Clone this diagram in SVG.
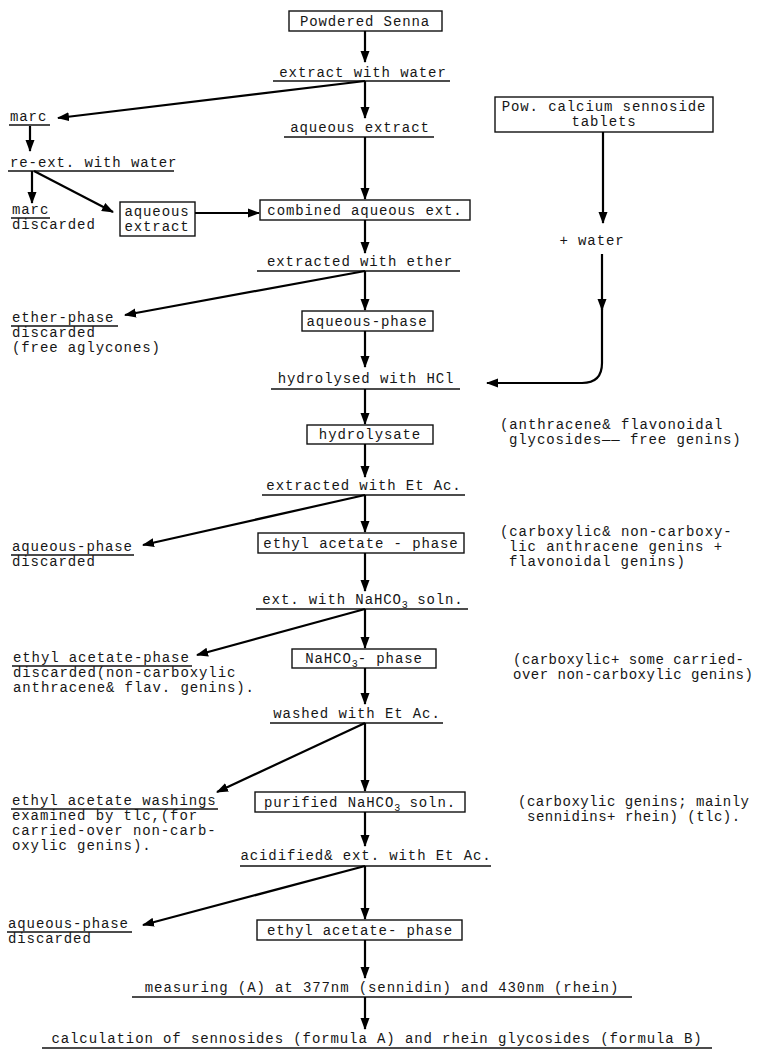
<svg xmlns="http://www.w3.org/2000/svg" width="757" height="1052" viewBox="0 0 757 1052">
<style>
text{font-family:"Liberation Mono","DejaVu Sans Mono",monospace;font-size:14px;letter-spacing:0.9px;fill:#161616}
.m{text-anchor:middle}
.n{letter-spacing:0.5px}
.box{fill:none;stroke:#111;stroke-width:1.4}
.ul{stroke:#111;stroke-width:1.3}
.ar{fill:none;stroke:#000;stroke-width:2.2;marker-end:url(#ah)}
.sub{font-size:10px;letter-spacing:0}
</style>
<defs>
<marker id="ah" markerUnits="userSpaceOnUse" markerWidth="12" markerHeight="10" refX="11" refY="5" orient="auto">
<path d="M0,0.5 L12,5 L0,9.5 z" fill="#000"/>
</marker>
</defs>
<rect width="757" height="1052" fill="#fff"/>

<g id="n-powdered"><rect class="box" x="289" y="11" width="153" height="20"/><text class="m" x="365" y="26">Powdered Senna</text></g>
<g id="n-extract-water"><text class="m" x="363" y="77">extract with water</text><line class="ul" x1="273" y1="81" x2="450" y2="81"/></g>
<g id="n-marc1"><text x="10" y="121">marc</text><line class="ul" x1="9" y1="125" x2="50" y2="125"/></g>
<g id="n-aq-extract"><text class="m" x="360" y="132">aqueous extract</text><line class="ul" x1="284" y1="137" x2="434" y2="137"/></g>
<g id="n-calcium"><rect class="box" x="495" y="97" width="218" height="35"/><text class="m" x="604" y="111">Pow. calcium sennoside</text><text class="m" x="604" y="126">tablets</text></g>
<g id="n-reext"><text x="10" y="167">re-ext. with water</text><line class="ul" x1="8" y1="171" x2="174" y2="171"/></g>
<g id="n-marc2"><text x="12" y="214">marc</text><line class="ul" x1="11" y1="218" x2="50" y2="218"/><text x="12" y="229">discarded</text></g>
<g id="n-aq-box"><rect class="box" x="120" y="202" width="75" height="34"/><text class="m" x="157" y="216">aqueous</text><text class="m" x="157" y="231">extract</text></g>
<g id="n-combined"><rect class="box" x="260" y="200" width="210" height="20"/><text class="m" x="365" y="215">combined aqueous ext.</text></g>
<g id="n-water"><text class="m" x="592" y="245">+ water</text></g>
<g id="n-ether"><text class="m" x="360" y="266">extracted with ether</text><line class="ul" x1="257" y1="271" x2="460" y2="271"/></g>
<g id="n-ether-phase"><text x="12" y="322">ether-phase</text><line class="ul" x1="11" y1="326" x2="118" y2="326"/><text x="12" y="337">discarded</text><text x="12" y="352">(free aglycones)</text></g>
<g id="n-aq-phase"><rect class="box" x="302" y="311" width="131" height="20"/><text class="m" x="367" y="326">aqueous-phase</text></g>
<g id="n-hydrolysed"><text class="m" x="366" y="383">hydrolysed with HCl</text><line class="ul" x1="271" y1="389" x2="460" y2="389"/></g>
<g id="n-hydrolysate"><rect class="box" x="307" y="425" width="126" height="19"/><text class="m" x="370" y="439">hydrolysate</text></g>
<g id="n-note1"><text x="500" y="429">(anthracene&amp; flavonoidal</text><text x="509" y="444">glycosides—— free genins)</text></g>
<g id="n-etac1"><text class="m" x="364" y="490">extracted with Et Ac.</text><line class="ul" x1="262" y1="495" x2="465" y2="495"/></g>
<g id="n-aq-disc1"><text x="12" y="551">aqueous-phase</text><line class="ul" x1="11" y1="555" x2="134" y2="555"/><text x="12" y="566">discarded</text></g>
<g id="n-ethyl1"><rect class="box" x="258" y="533" width="206" height="20"/><text class="m" x="361" y="548">ethyl acetate - phase</text></g>
<g id="n-note2"><text x="500" y="536">(carboxylic&amp; non-carboxy-</text><text x="509" y="551">lic anthracene genins +</text><text x="509" y="566">flavonoidal genins)</text></g>
<g id="n-nahco3"><text class="m" x="363" y="604">ext. with NaHCO<tspan class="sub" dy="4">3</tspan><tspan dy="-4"> soln.</tspan></text><line class="ul" x1="256" y1="609" x2="468" y2="609"/></g>
<g id="n-ethyl-disc"><text x="13" y="662">ethyl acetate-phase</text><line class="ul" x1="12" y1="666" x2="192" y2="666"/><text x="13" y="677">discarded(non-carboxylic</text><text x="13" y="692">anthracene&amp; flav. genins).</text></g>
<g id="n-nahco3-phase"><rect class="box" x="292" y="649" width="144" height="19"/><text class="m" x="364" y="663">NaHCO<tspan class="sub" dy="4">3</tspan><tspan dy="-4">- phase</tspan></text></g>
<g id="n-note3"><text class="n" x="513" y="664">(carboxylic+ some carried-</text><text class="n" x="513" y="679">over non-carboxylic genins)</text></g>
<g id="n-washed"><text class="m" x="357" y="718">washed with Et Ac.</text><line class="ul" x1="270" y1="723" x2="443" y2="723"/></g>
<g id="n-washings"><text x="12" y="805">ethyl acetate washings</text><line class="ul" x1="11" y1="809" x2="218" y2="809"/><text x="12" y="820">examined by tlc,(for</text><text x="12" y="835">carried-over non-carb-</text><text x="12" y="850">oxylic genins).</text></g>
<g id="n-purified"><rect class="box" x="255" y="792" width="210" height="20"/><text class="m" x="360" y="807">purified NaHCO<tspan class="sub" dy="4">3</tspan><tspan dy="-4"> soln.</tspan></text></g>
<g id="n-note4"><text class="n" x="518" y="806">(carboxylic genins; mainly</text><text class="n" x="527" y="821">sennidins+ rhein) (tlc).</text></g>
<g id="n-acidified"><text class="m" x="366" y="860">acidified&amp; ext. with Et Ac.</text><line class="ul" x1="240" y1="866" x2="491" y2="866"/></g>
<g id="n-aq-disc2"><text x="8" y="928">aqueous-phase</text><line class="ul" x1="7" y1="932" x2="132" y2="932"/><text x="8" y="943">discarded</text></g>
<g id="n-ethyl2"><rect class="box" x="257" y="920" width="205" height="20"/><text class="m" x="360" y="935">ethyl acetate- phase</text></g>
<g id="n-measuring"><text class="m" x="382" y="992">measuring (A) at 377nm (sennidin) and 430nm (rhein)</text><line class="ul" x1="132" y1="997" x2="632" y2="997"/></g>
<g id="n-calc"><text class="m" x="377" y="1043">calculation of sennosides (formula A) and rhein glycosides (formula B)</text><line class="ul" x1="42" y1="1048" x2="712" y2="1048"/></g>

<g id="connectors">
<path class="ar" d="M365,31 V62"/>
<path class="ar" d="M365,81 L58,118"/>
<path class="ar" d="M365,81 V118"/>
<path class="ar" d="M30,126 V151"/>
<path class="ar" d="M32,171 V203"/>
<path class="ar" d="M34,171 L113,212"/>
<path class="ar" d="M195,213 H259"/>
<path class="ar" d="M365,137 V199"/>
<path class="ar" d="M365,220 V253"/>
<path class="ar" d="M365,271 L125,315"/>
<path class="ar" d="M365,271 V310"/>
<path class="ar" d="M365,331 V367"/>
<path class="ar" d="M603,132 V223"/>
<path class="ar" d="M602,254 V310"/>
<path class="ar" d="M602,300 V363 Q602,383 582,383 H487"/>
<path class="ar" d="M365,389 V424"/>
<path class="ar" d="M365,444 V477"/>
<path class="ar" d="M365,495 L143,545"/>
<path class="ar" d="M365,495 V532"/>
<path class="ar" d="M365,553 V591"/>
<path class="ar" d="M365,609 L197,655"/>
<path class="ar" d="M365,609 V648"/>
<path class="ar" d="M365,668 V704"/>
<path class="ar" d="M365,723 L217,792"/>
<path class="ar" d="M365,723 V791"/>
<path class="ar" d="M365,812 V846"/>
<path class="ar" d="M365,866 L143,925"/>
<path class="ar" d="M365,866 V919"/>
<path class="ar" d="M365,940 V978"/>
<path class="ar" d="M365,997 V1029"/>
</g>
</svg>
